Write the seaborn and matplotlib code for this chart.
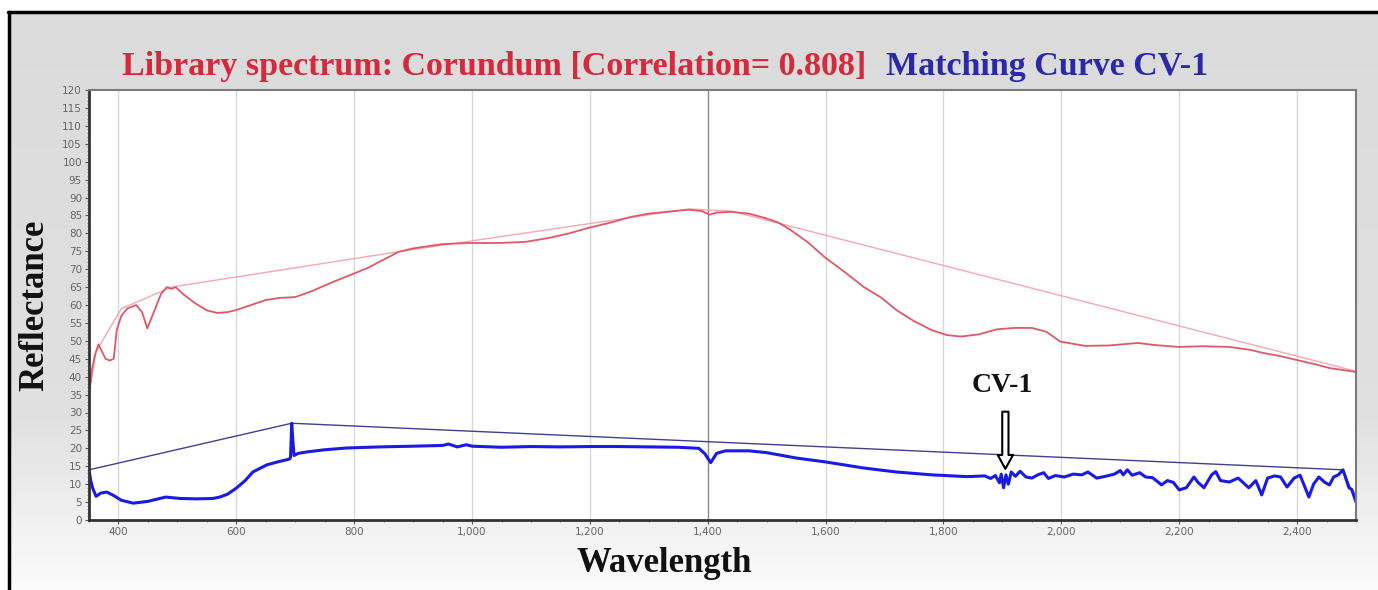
import numpy as np
import pandas as pd
import seaborn as sns
import matplotlib.pyplot as plt
from matplotlib.ticker import MultipleLocator, FuncFormatter

# library spectrum (Corundum)
lib_wl = [350, 355, 360, 366, 372, 378, 385, 392, 397, 405, 415, 430, 440, 449, 460,
          472, 482, 490, 497, 510, 530, 550, 567, 585, 600, 625, 650, 675, 700, 730,
          758, 780, 803, 825, 842, 860, 875, 900, 950, 995, 1045, 1090, 1130, 1165,
          1197, 1235, 1270, 1300, 1330, 1368, 1390, 1403, 1415, 1440, 1470, 1497,
          1520, 1540, 1570, 1598, 1630, 1665, 1695, 1720, 1750, 1780, 1806, 1830,
          1860, 1890, 1920, 1950, 1975, 1998, 2040, 2080, 2130, 2160, 2200, 2240,
          2285, 2320, 2343, 2370, 2398, 2430, 2455, 2480, 2500]
lib_refl = [35, 42, 46, 49, 47, 45, 44.5, 45, 53, 57, 59, 60, 58, 53.5, 58,
            63, 65, 64.5, 65, 63, 60.5, 58.5, 57.8, 58, 58.6, 60, 61.4, 62, 62.2, 64,
            66, 67.5, 69, 70.5, 72, 73.5, 74.8, 75.8, 77, 77.3, 77.3, 77.6, 78.7, 80,
            81.5, 83, 84.6, 85.5, 86, 86.6, 86.2, 85.2, 85.8, 86, 85.5, 84.3,
            83, 81, 77.5, 73.4, 69.5, 65, 62, 58.6, 55.5, 53, 51.6, 51.2,
            51.8, 53.2, 53.6, 53.6, 52.5, 49.8, 48.6, 48.7, 49.4, 48.8, 48.3, 48.5,
            48.3, 47.5, 46.6, 45.8, 44.7, 43.5, 42.4, 41.8, 41.3]
lib_hull_wl = [350, 362, 405, 490, 880, 1368, 1440, 2500]
lib_hull_refl = [35, 47, 59, 65, 75, 86.8, 86.2, 41.5]

# matching curve CV-1
cv_wl = [350, 353, 356, 362, 370, 380, 390, 405, 425, 450, 480, 505, 533, 560, 572,
         585, 600, 615, 628, 652, 670, 690, 692, 694, 696, 698, 705, 720, 750, 788,
         844, 900, 950, 960, 975, 990, 1000, 1050, 1100, 1150, 1200, 1250, 1300,
         1350, 1385, 1395, 1405, 1415, 1430, 1470, 1500, 1550, 1600, 1665, 1720,
         1780, 1840, 1870, 1880, 1888, 1895, 1898, 1902, 1906, 1910, 1915, 1922,
         1930, 1940, 1950, 1960, 1970, 1978, 1990, 2005, 2020, 2035, 2045, 2060,
         2075, 2090, 2100, 2105, 2112, 2120, 2133, 2143, 2155, 2170, 2180, 2190,
         2200, 2212, 2225, 2232, 2242, 2255, 2262, 2270, 2285, 2300, 2310, 2318,
         2330, 2340, 2350, 2362, 2372, 2383, 2395, 2405, 2415, 2420, 2428, 2437,
         2447, 2455, 2462, 2470, 2478, 2483, 2488, 2493, 2500]
cv_refl = [14, 11, 9, 6.6, 7.5, 7.8, 7, 5.5, 4.7, 5.2, 6.4, 6, 5.9, 6, 6.4,
           7.2, 8.9, 11, 13.4, 15.4, 16.2, 17, 17.5, 27, 22, 18, 18.6, 19, 19.6, 20.1,
           20.4, 20.6, 20.8, 21.2, 20.4, 21, 20.6, 20.3, 20.5, 20.4, 20.5, 20.5, 20.4,
           20.3, 20, 18.5, 16, 18.6, 19.3, 19.3, 18.8, 17.3, 16.2, 14.5, 13.4,
           12.6, 12.1, 12.3, 11.6, 12.4, 10.4, 12.8, 9, 12.6, 10, 13.4, 12.2,
           13.6, 12, 11.7, 12.6, 13.2, 11.6, 12.4, 12, 12.8, 12.6, 13.4, 11.7,
           12.2, 12.8, 13.8, 12.6, 14, 12.5, 13.2, 12, 11.8, 9.8, 11, 10.5,
           8.4, 9, 12, 10.5, 9, 12.6, 13.5, 11, 10.6, 11.7, 10.2, 9,
           11, 7, 11.7, 12.3, 12, 9.2, 11.7, 12.5, 8.5, 6.4, 10, 12,
           10.5, 9.8, 12, 12.6, 14, 11.5, 9, 8.5, 5]
cv_hull_wl = [350, 694, 2478, 2500]
cv_hull_refl = [14, 27, 14, 5]

x_ticks = [400, 600, 800, 1000, 1200, 1400, 1600, 1800, 2000, 2200, 2400]

sns.set_style("white")
plt.rcParams['font.family'] = ['DejaVu Sans']

fig = plt.figure(figsize=(13.78, 5.90), dpi=100)
fig.patch.set_facecolor('white')

# grey frame background with fade towards the bottom
bg = fig.add_axes([8 / 1378, 0, 1 - 8 / 1378, 1 - 12 / 590], zorder=-5)
grad = np.linspace(0, 1, 256).reshape(-1, 1)
grey = np.interp(grad, [0, 0.7, 1], [0.86, 0.88, 0.985])
bg.imshow(np.dstack([grey, grey, grey]), aspect='auto', extent=[0, 1, 0, 1])
bg.set_xlim(0, 1)
bg.set_ylim(0, 1)
bg.axis('off')
fig.add_artist(plt.Line2D([9 / 1378, 9 / 1378], [0, 1 - 12 / 590], color='black', lw=2.5))
fig.add_artist(plt.Line2D([8 / 1378, 1], [1 - 12 / 590, 1 - 12 / 590], color='black', lw=2.5))

ax = fig.add_axes([89 / 1378, 1 - 520 / 590, (1356 - 89) / 1378, 430 / 590])
ax.set_facecolor('white')

lib = pd.DataFrame({'wl': lib_wl, 'r': lib_refl})
lib_hull = pd.DataFrame({'wl': lib_hull_wl, 'r': lib_hull_refl})
cv = pd.DataFrame({'wl': cv_wl, 'r': cv_refl})
cv_hull = pd.DataFrame({'wl': cv_hull_wl, 'r': cv_hull_refl})

sns.lineplot(data=lib_hull, x='wl', y='r', ax=ax, color='#f5a8b0', lw=1.0, sort=False)
sns.lineplot(data=lib, x='wl', y='r', ax=ax, color='#e05868', lw=1.3, sort=False)
sns.lineplot(data=cv_hull, x='wl', y='r', ax=ax, color='#404090', lw=1.0, sort=False)
sns.lineplot(data=cv, x='wl', y='r', ax=ax, color='#1a1ae6', lw=2.2, sort=False)

ax.set_xlim(350, 2500)
ax.set_ylim(0, 120)
ax.set_xticks(x_ticks)
ax.xaxis.set_major_formatter(FuncFormatter(lambda v, p: f"{int(v):,}"))
ax.yaxis.set_major_locator(MultipleLocator(5))
ax.yaxis.set_minor_locator(MultipleLocator(1))
ax.xaxis.set_minor_locator(MultipleLocator(50))
ax.tick_params(axis='both', which='major', labelsize=7.5, labelcolor='#666666',
               length=3, width=0.8, color='#555555', pad=2)
ax.tick_params(axis='both', which='minor', length=1.5, width=0.6, color='#777777')
ax.tick_params(left=True, bottom=True, which='both')

for xt in x_ticks:
    ax.axvline(xt, color='#8a8a8a' if xt == 1400 else '#d8d8d8', lw=1.0, zorder=0)

for s in ['left', 'bottom']:
    ax.spines[s].set_color('#333333')
    ax.spines[s].set_linewidth(2.0)
for s in ['top', 'right']:
    ax.spines[s].set_color('#7a7a7a')
    ax.spines[s].set_linewidth(1.5)

serif = ['Liberation Serif', 'DejaVu Serif']
ax.set_xlabel('Wavelength', family=serif, fontweight='bold', fontsize=25, color='#111111', labelpad=2)
ax.xaxis.set_label_coords((664 - 89) / 1267, -0.062)
ax.set_ylabel('Reflectance', family=serif, fontweight='bold', fontsize=25, color='#111111', labelpad=8)

t1 = fig.text(122 / 1378, 1 - 75 / 590, 'Library spectrum: Corundum [Correlation= 0.808]',
              family=serif, fontweight='bold', fontsize=24.5, color='#d42a3c', va='baseline')
ax.annotate('Matching Curve CV-1', xy=(1, 0), xycoords=t1, xytext=(14, 0),
            textcoords='offset points', family=serif, fontweight='bold', fontsize=24.5,
            color='#2a2aa8', va='bottom', ha='left', annotation_clip=False)

# CV-1 marker
ax.annotate('', xy=(1905, 13.5), xytext=(1905, 31),
            arrowprops=dict(arrowstyle='simple,head_width=1.1,head_length=1.0,tail_width=0.45',
                            fc='white', ec='black', lw=1.5))
ax.text(1900, 37.5, 'CV-1', family=serif, fontweight='bold', fontsize=20,
        color='#111111', ha='center', va='center')

fig.savefig('out.png', dpi=100)
